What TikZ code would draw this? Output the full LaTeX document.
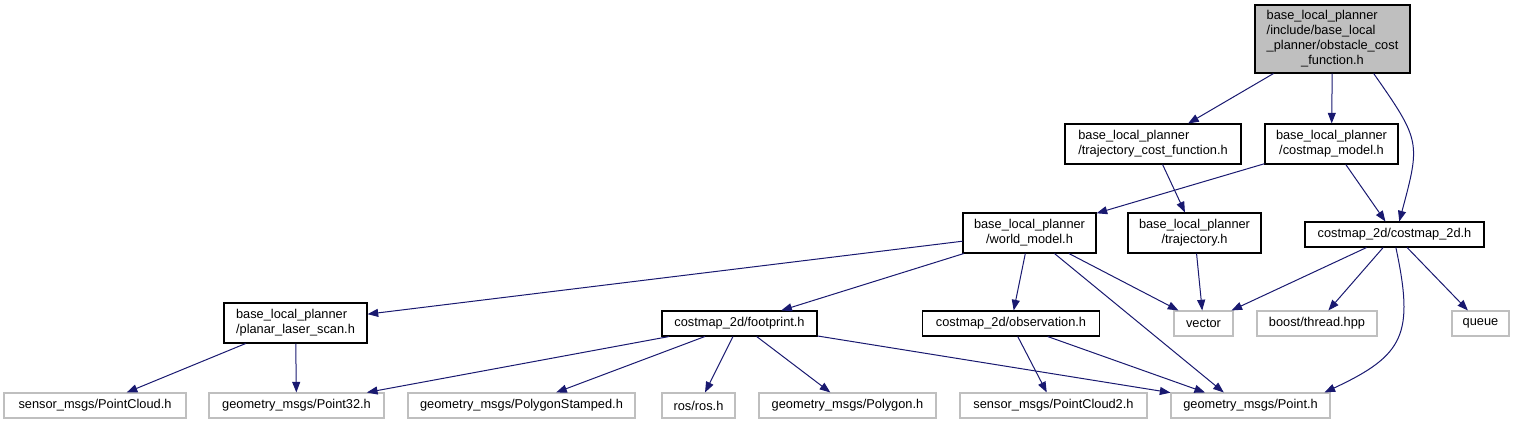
\documentclass[tikz,border=0pt]{standalone}
\usepackage{fontspec}
\setmainfont{Liberation Sans}
\usetikzlibrary{arrows.meta}

\definecolor{edgeblue}{HTML}{191970}
\definecolor{extgrey}{HTML}{BFBFBF}
\newcommand{\hdr}[2]{\begin{tabular}{@{}l@{}}#1\\\multicolumn{1}{@{}c@{}}{#2}\end{tabular}}

\begin{document}
\begin{tikzpicture}[
      x=0.75pt, y=-0.75pt,
      every node/.style={font=\fontsize{9.6}{11.25}\selectfont, inner sep=0pt},
      file/.style 2 args={rectangle, draw=black, line width=0.8pt, minimum width=#1*0.75pt, minimum height=#2*0.75pt},
      sys/.style={rectangle, draw=extgrey, line width=0.8pt, minimum width=#1*0.75pt, minimum height=18.75pt},
      arrow/.style={-{Triangle[length=8pt,width=6pt]}, draw=edgeblue, line width=0.75pt}
    ]
    \useasboundingbox (0,0) rectangle (1515,424);

    % Top: the header itself
    \node[file={155}{68}, fill=extgrey] (obst) at (1332.5,39) {\hdr{base\_local\_planner\\/include/base\_local\\\_planner/obstacle\_cost}{\_function.h}};

    % Second row
    \node[file={176}{40}] (tcf) at (1153,144) {\hdr{base\_local\_planner}{/trajectory\_cost\_function.h}};
    \node[file={133}{40}] (cmodel) at (1331.5,144) {\hdr{base\_local\_planner}{/costmap\_model.h}};

    % Third row
    \node[file={133}{40}] (wm) at (1029.5,233) {\hdr{base\_local\_planner}{/world\_model.h}};
    \node[file={133}{40}] (traj) at (1194.5,233) {\hdr{base\_local\_planner}{/trajectory.h}};
    \node[file={179}{25}] (c2d) at (1394.5,234.5) {costmap\_2d/costmap\_2d.h};

    % Fourth row
    \node[file={143}{40}] (planar) at (295.5,323) {\hdr{base\_local\_planner}{/planar\_laser\_scan.h}};
    \node[file={155}{25}] (fp) at (739.5,323.5) {costmap\_2d/footprint.h};
    \node[file={177}{25}] (obs) at (1011,323.5) {costmap\_2d/observation.h};
    \node[sys=59] (vec) at (1203.5,323.5) {vector};
    \node[sys=120] (boost) at (1317,323.5) {boost/thread.hpp};
    \node[sys=57] (queue) at (1480.5,323.5) {queue};

    % Bottom row: system headers
    \node[sys=182] (pcloud) at (95,405.5) {sensor\_msgs/PointCloud.h};
    \node[sys=175] (pt32) at (296.5,405.5) {geometry\_msgs/Point32.h};
    \node[sys=227] (pstamp) at (521.5,405.5) {geometry\_msgs/PolygonStamped.h};
    \node[sys=73] (ros) at (698.5,405.5) {ros/ros.h};
    \node[sys=177] (polygon) at (847.5,405.5) {geometry\_msgs/Polygon.h};
    \node[sys=187] (pcloud2) at (1053.5,405.5) {sensor\_msgs/PointCloud2.h};
    \node[sys=159] (pointh) at (1250.5,405.5) {geometry\_msgs/Point.h};

    % Includes
    \draw[arrow] (obst) -- (tcf);
    \draw[arrow] (obst) -- (cmodel);
    \draw[arrow] (obst.-40) to[out=-55, in=75, looseness=1.4] (c2d.70);
    \draw[arrow] (tcf) -- (traj);
    \draw[arrow] (cmodel) -- (wm);
    \draw[arrow] (cmodel) -- (c2d);
    \draw[arrow] (wm) -- (planar);
    \draw[arrow] (wm) -- (fp);
    \draw[arrow] (wm) -- (obs);
    \draw[arrow] (wm) -- (vec);
    \draw[arrow] (wm) -- (pointh.154);
    \draw[arrow] (traj) -- (vec);
    \draw[arrow] (c2d) -- (vec);
    \draw[arrow] (c2d) -- (boost);
    \draw[arrow] (c2d) -- (queue);
    \draw[arrow] (c2d.-84) to[out=-78, in=25, looseness=1.4] (pointh.10);
    \draw[arrow] (planar) -- (pcloud);
    \draw[arrow] (planar) -- (pt32);
    \draw[arrow] (fp) -- (pt32);
    \draw[arrow] (fp) -- (pstamp);
    \draw[arrow] (fp) -- (ros);
    \draw[arrow] (fp) -- (polygon);
    \draw[arrow] (fp) -- (pointh);
    \draw[arrow] (obs) -- (pcloud2);
    \draw[arrow] (obs) -- (pointh.164);

  \end{tikzpicture}
\end{document}
